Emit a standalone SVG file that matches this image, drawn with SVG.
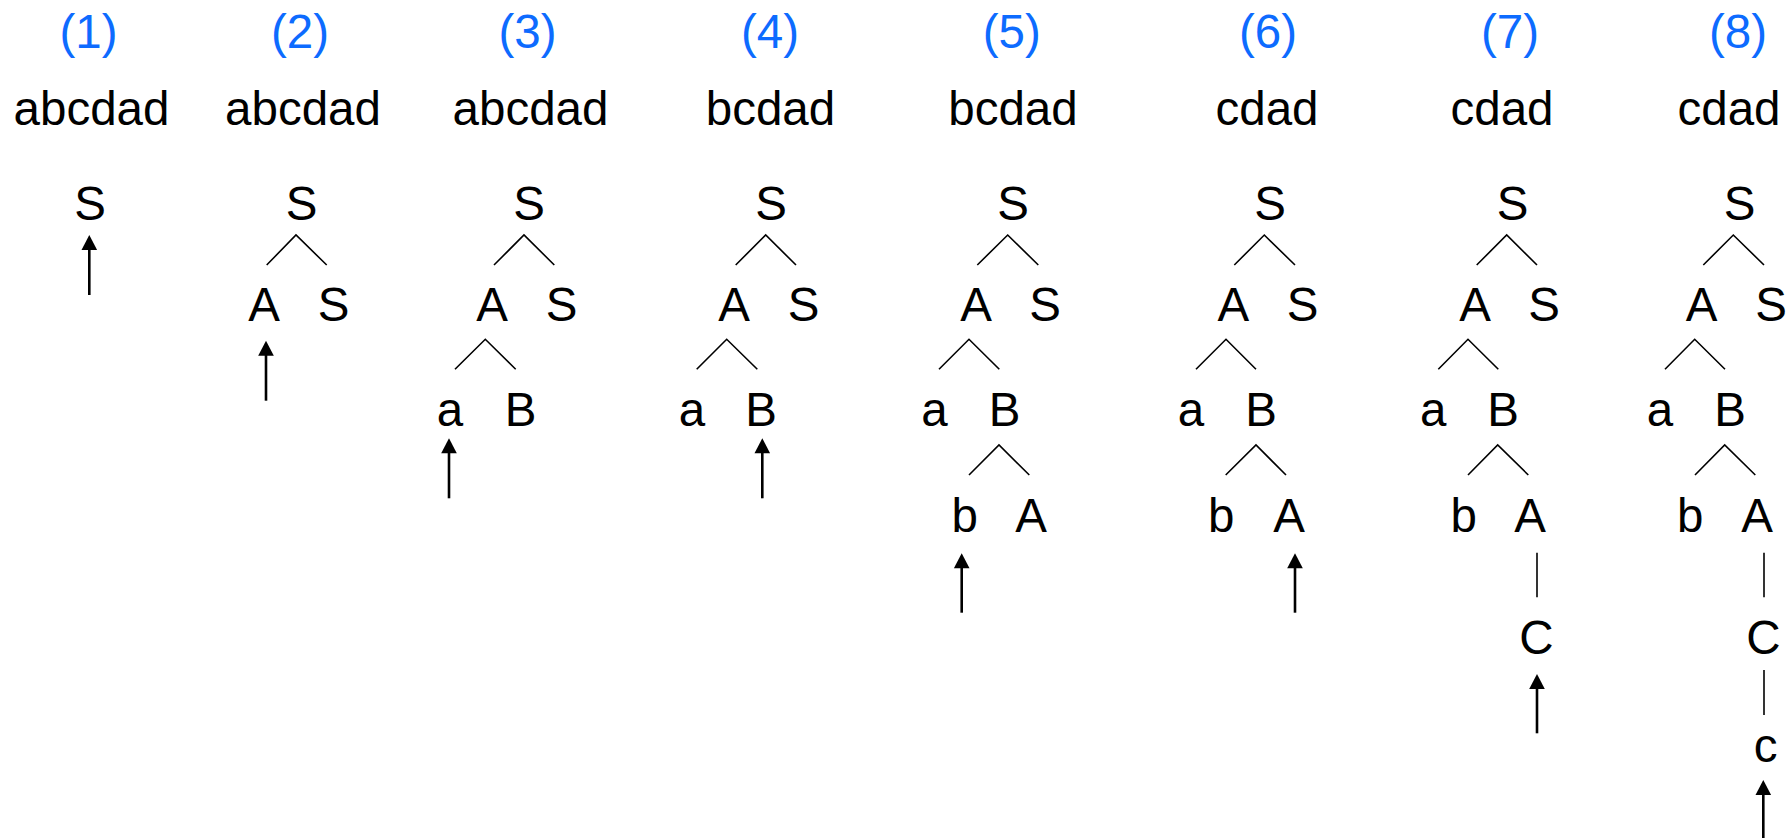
<svg xmlns="http://www.w3.org/2000/svg" xmlns:xlink="http://www.w3.org/1999/xlink" width="1787" height="838" viewBox="0 0 1787 838">
<style>
text{font-family:"Liberation Sans",Arial,sans-serif;font-size:47.5px;text-anchor:middle;fill:#000}
.t{fill:#0d6bff}
.br{fill:none;stroke:#000;stroke-width:1.6}
.ar{stroke:#000;stroke-width:2.6}
</style>
<defs>
<path id="ah" d="M0,0 L-7.8,15 L7.8,15 Z" fill="#000"/>
</defs>
<rect width="1787" height="838" fill="#fff"/>
<g id="titles">
<text class="t" x="88.5" y="48">(1)</text>
<text class="t" x="300" y="48">(2)</text>
<text class="t" x="527.5" y="48">(3)</text>
<text class="t" x="770" y="48">(4)</text>
<text class="t" x="1011.7" y="48">(5)</text>
<text class="t" x="1268" y="48">(6)</text>
<text class="t" x="1510" y="48">(7)</text>
<text class="t" x="1738" y="48">(8)</text>
</g>
<g id="inputs">
<text x="91.5" y="125">abcdad</text>
<text x="303" y="125">abcdad</text>
<text x="530.5" y="125">abcdad</text>
<text x="770.5" y="125">bcdad</text>
<text x="1013" y="125">bcdad</text>
<text x="1267" y="125">cdad</text>
<text x="1502" y="125">cdad</text>
<text x="1729" y="125">cdad</text>
</g>
<g id="p1">
<g id="p1-S"><text x="90" y="220">S</text></g>
</g>
<g id="p2">
<g id="p2-S"><text x="301.5" y="220">S</text></g>
<g id="p2-A"><text x="264" y="321">A</text></g>
<g id="p2-S2"><text x="333.5" y="321">S</text></g>
</g>
<g id="p3">
<g id="p3-S"><text x="529" y="220">S</text></g>
<g id="p3-A"><text x="492" y="321">A</text></g>
<g id="p3-S2"><text x="561.5" y="321">S</text></g>
<g id="p3-a"><text x="450" y="426">a</text></g>
<g id="p3-B"><text x="520.5" y="426">B</text></g>
</g>
<g id="p4">
<g id="p4-S"><text x="771" y="220">S</text></g>
<g id="p4-A"><text x="734" y="321">A</text></g>
<g id="p4-S2"><text x="803.5" y="321">S</text></g>
<g id="p4-a"><text x="692" y="426">a</text></g>
<g id="p4-B"><text x="761" y="426">B</text></g>
</g>
<g id="p5">
<g id="p5-S"><text x="1013" y="220">S</text></g>
<g id="p5-A"><text x="976" y="321">A</text></g>
<g id="p5-S2"><text x="1045" y="321">S</text></g>
<g id="p5-a"><text x="934.5" y="426">a</text></g>
<g id="p5-B"><text x="1004.5" y="426">B</text></g>
<g id="p5-b"><text x="964.7" y="532">b</text></g>
<g id="p5-A2"><text x="1031" y="532">A</text></g>
</g>
<g id="p6">
<g id="p6-S"><text x="1270" y="220">S</text></g>
<g id="p6-A"><text x="1233.3" y="321">A</text></g>
<g id="p6-S2"><text x="1302.7" y="321">S</text></g>
<g id="p6-a"><text x="1191" y="426">a</text></g>
<g id="p6-B"><text x="1261" y="426">B</text></g>
<g id="p6-b"><text x="1221.3" y="532">b</text></g>
<g id="p6-A2"><text x="1289" y="532">A</text></g>
</g>
<g id="p7">
<g id="p7-S"><text x="1512.5" y="220">S</text></g>
<g id="p7-A"><text x="1475" y="321">A</text></g>
<g id="p7-S2"><text x="1544" y="321">S</text></g>
<g id="p7-a"><text x="1433.3" y="426">a</text></g>
<g id="p7-B"><text x="1503" y="426">B</text></g>
<g id="p7-b"><text x="1463.7" y="532">b</text></g>
<g id="p7-A2"><text x="1530" y="532">A</text></g>
<g id="p7-C"><text x="1536.5" y="654">C</text></g>
</g>
<g id="p8">
<g id="p8-S"><text x="1739.5" y="220">S</text></g>
<g id="p8-A"><text x="1701.7" y="321">A</text></g>
<g id="p8-S2"><text x="1771" y="321">S</text></g>
<g id="p8-a"><text x="1660" y="426">a</text></g>
<g id="p8-B"><text x="1730" y="426">B</text></g>
<g id="p8-b"><text x="1690.3" y="532">b</text></g>
<g id="p8-A2"><text x="1757" y="532">A</text></g>
<g id="p8-C"><text x="1763.3" y="654">C</text></g>
<g id="p8-c"><text x="1765.5" y="762">c</text></g>
</g>
<g id="connectors">
<polyline class="br" points="266.7,265 296,235 326.7,265"/>
<polyline class="br" points="494,265 524,235 554.3,265"/>
<polyline class="br" points="455,369.3 485.3,339.3 515.7,369.3"/>
<polyline class="br" points="735.7,265 765.7,235 796,265"/>
<polyline class="br" points="696.7,369.3 726.7,339.3 757.3,369.3"/>
<polyline class="br" points="977.3,265 1007.7,235 1038.3,265"/>
<polyline class="br" points="939,369.3 969,339.3 999.3,369.3"/>
<polyline class="br" points="969,475 999,445 1029.3,475"/>
<polyline class="br" points="1234.3,265 1264.3,235 1295,265"/>
<polyline class="br" points="1196,369.3 1226,339.3 1256,369.3"/>
<polyline class="br" points="1225.7,475 1256,445 1286,475"/>
<polyline class="br" points="1476.7,265 1506.7,235 1537,265"/>
<polyline class="br" points="1438.3,369.3 1468,339.3 1498.3,369.3"/>
<polyline class="br" points="1468,475 1497.7,445 1528.3,475"/>
<line class="br" x1="1537" y1="552.7" x2="1537" y2="597.3"/>
<polyline class="br" points="1703.3,265 1733.3,235 1764,265"/>
<polyline class="br" points="1665,369.3 1694.7,339.3 1725,369.3"/>
<polyline class="br" points="1695,475 1724.7,445 1755.3,475"/>
<line class="br" x1="1764" y1="552.7" x2="1764" y2="597.3"/>
<line class="br" x1="1764" y1="670" x2="1764" y2="715"/>
</g>
<g id="pointers">
<line class="ar" x1="89.3" y1="295" x2="89.3" y2="248"/><use xlink:href="#ah" x="89.3" y="235"/>
<line class="ar" x1="266" y1="400.7" x2="266" y2="354"/><use xlink:href="#ah" x="266" y="340.7"/>
<line class="ar" x1="449" y1="498.3" x2="449" y2="451"/><use xlink:href="#ah" x="449" y="438.3"/>
<line class="ar" x1="762.3" y1="498.3" x2="762.3" y2="451"/><use xlink:href="#ah" x="762.3" y="438.3"/>
<line class="ar" x1="961.7" y1="612.7" x2="961.7" y2="566"/><use xlink:href="#ah" x="961.7" y="553.3"/>
<line class="ar" x1="1295" y1="612.7" x2="1295" y2="566"/><use xlink:href="#ah" x="1295" y="553.3"/>
<line class="ar" x1="1537" y1="733.3" x2="1537" y2="687"/><use xlink:href="#ah" x="1537" y="674"/>
<line class="ar" x1="1763.3" y1="840" x2="1763.3" y2="793"/><use xlink:href="#ah" x="1763.3" y="780"/>
</g>
</svg>
